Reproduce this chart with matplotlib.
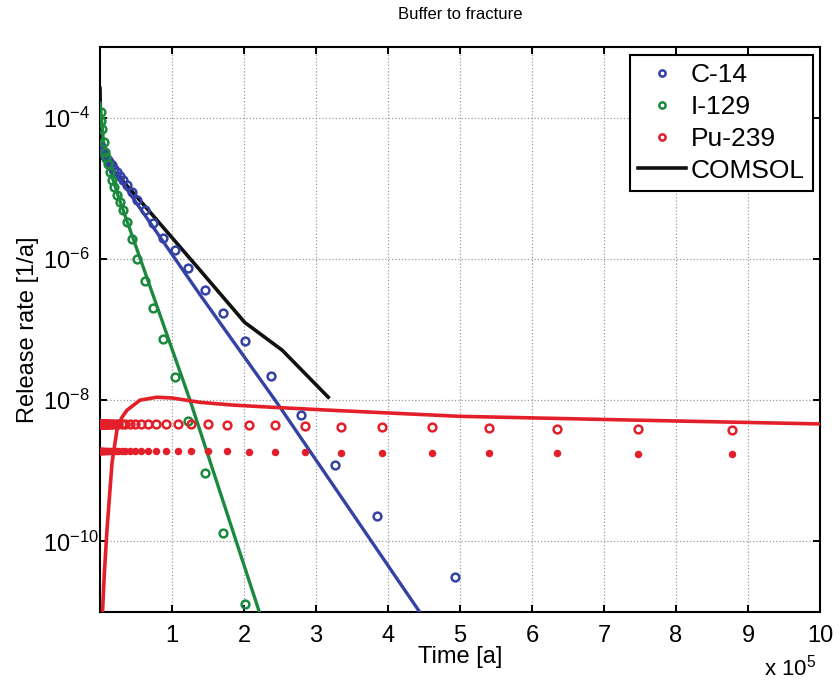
import numpy as np
import matplotlib
matplotlib.use("Agg")
import matplotlib.pyplot as plt
from matplotlib.lines import Line2D
from matplotlib.ticker import FixedLocator, FuncFormatter, LogFormatterSciNotation, NullLocator

plt.rcParams['font.family'] = ['Liberation Sans', 'DejaVu Sans']
plt.rcParams['mathtext.fontset'] = 'custom'
plt.rcParams['mathtext.rm'] = 'Liberation Sans'
plt.rcParams['mathtext.it'] = 'Liberation Sans:italic'
plt.rcParams['axes.unicode_minus'] = False

# --- C-14 / I-129 sample times [a] and release rates [1/a] ---
t_c14 = [1000, 2000, 3000, 5000, 7000, 9000, 11000, 14000, 17000, 20000, 24000, 28000,
         32000, 37500, 44000, 52000, 62000, 74000, 87500, 104000, 122000,
         146000, 171000, 201000, 238000, 279000, 326000, 385000, 493000]
r_c14 = [3.8e-5, 3.5e-5, 3.3e-5, 3.1e-5, 2.9e-5, 2.7e-5, 2.5e-5, 2.3e-5, 2.1e-5, 1.9e-5, 1.7e-5, 1.5e-5,
         1.3e-5, 1.1e-5, 8.8e-6, 6.9e-6, 5.0e-6, 3.2e-6, 2.0e-6, 1.33e-6, 7.4e-7,
         3.6e-7, 1.7e-7, 6.9e-8, 2.2e-8, 6.2e-9, 1.2e-9, 2.3e-10, 3.1e-11]

t_i129 = [1000, 2000, 3000, 5000, 7000, 9000, 11000, 14000, 17000, 20000, 24000, 28000,
          32000, 37500, 44000, 52000, 62000, 74000, 87500, 104000, 122000,
          146000, 171000, 201000]
r_i129 = [1.2e-4, 9.0e-5, 7.0e-5, 4.5e-5, 3.3e-5, 2.8e-5, 2.2e-5, 1.7e-5, 1.3e-5, 1.05e-5, 8.0e-6, 6.3e-6,
          5.0e-6, 3.3e-6, 1.9e-6, 1.0e-6, 4.9e-7, 2.0e-7, 7.3e-8, 2.1e-8, 5.0e-9,
          9.4e-10, 1.3e-10, 1.3e-11]

# --- Pu-239 sample times, two result sets ---
t_pu = [200, 400, 600, 800, 1000, 1500, 2000, 2500, 3000, 3500, 4000, 5000, 6000, 7000,
        8000, 9500, 11000, 13000, 15500, 18500, 21700, 25500, 30000, 35000,
        41000, 48500, 57000, 67000, 78000, 92000, 108000, 127000, 150000, 176000,
        207000, 243000, 285000, 335000, 392000, 461000, 540000, 635000, 747000, 878000]
r_pu_open = [4.6e-9] * 33 + [4.5e-9, 4.45e-9, 4.4e-9, 4.3e-9, 4.2e-9, 4.15e-9,
                             4.1e-9, 4.0e-9, 3.95e-9, 3.9e-9, 3.8e-9]
r_pu_dot = [1.9e-9] * 33 + [1.88e-9, 1.86e-9, 1.85e-9, 1.83e-9, 1.81e-9, 1.8e-9,
                            1.78e-9, 1.77e-9, 1.76e-9, 1.75e-9, 1.75e-9]

# --- continuous curves ---
t_line_c14 = [0, 2000, 139000, 246000, 444000]
r_line_c14 = [4.5e-5, 3.2e-5, 3.1e-7, 9.1e-9, 1.0e-11]

t_line_i129 = [0, 5000, 14000, 25000, 125000, 222000]
r_line_i129 = [1.6e-4, 4.5e-5, 1.8e-5, 7.9e-6, 1.0e-8, 9.5e-12]

t_line_pu = [2500, 3500, 6000, 9700, 16700, 23600, 30000, 37500, 55600, 79000, 101000,
             139000, 185000, 232000, 319000, 499000, 746000, 1000000]
r_line_pu = [3e-12, 1.0e-11, 3.5e-11, 1.45e-10, 1.3e-9, 3.8e-9, 5.6e-9, 7.2e-9, 1.0e-8, 1.1e-8, 1.07e-8,
             9.3e-9, 8.5e-9, 8.0e-9, 7.2e-9, 5.9e-9, 5.2e-9, 4.6e-9]

t_comsol = [0, 1500, 3000, 53000, 100000, 139000, 201000, 253000, 317000]
r_comsol = [2.6e-4, 3.0e-5, 2.7e-5, 7.2e-6, 2.0e-6, 6.9e-7, 1.26e-7, 5.1e-8, 1.1e-8]

blue = '#3442a6'
green = '#1c8a3e'
red = '#e3202a'

fig = plt.figure(figsize=(8.4, 6.85), dpi=100)
ax = fig.add_axes([100 / 840, 1 - 612 / 685, 720 / 840, 565 / 685])

ax.plot(t_comsol, r_comsol, color='#111111', lw=2.6, zorder=3)
ax.plot(t_line_c14, r_line_c14, color=blue, lw=2.4, zorder=3)
ax.plot(t_line_i129, r_line_i129, color=green, lw=2.4, zorder=3)
ax.plot(t_line_pu, r_line_pu, color=red, lw=2.6, zorder=3)

circ = dict(linestyle='none', marker='o', markersize=5.6, markerfacecolor='none',
            markeredgewidth=1.8, zorder=4)
ax.plot(t_c14, r_c14, color=blue, **circ)
ax.plot(t_i129, r_i129, color=green, **circ)
ax.plot(t_pu, r_pu_open, color=red, **circ)
ax.plot(t_pu, r_pu_dot, linestyle='none', marker='o', markersize=5.4,
        color=red, markeredgewidth=0, zorder=4)

ax.set_yscale('log')
ax.set_xlim(0, 1e6)
ax.set_ylim(1e-11, 1e-3)

ax.xaxis.set_major_locator(FixedLocator([i * 1e5 for i in range(1, 11)]))
ax.xaxis.set_major_formatter(FuncFormatter(lambda v, p: f"{v / 1e5:.0f}"))
ax.yaxis.set_major_locator(FixedLocator([1e-10, 1e-8, 1e-6, 1e-4]))
ax.yaxis.set_major_formatter(LogFormatterSciNotation())
ax.yaxis.set_minor_locator(NullLocator())
ax.xaxis.set_minor_locator(NullLocator())

ax.tick_params(direction='in', length=5, width=1.4, top=True, right=True,
               labelsize=17)
ax.tick_params(axis='x', pad=9)
# exponent labels sit flush left, like the original plotting tool does
ax.tick_params(axis='y', pad=41)
for lbl in ax.get_yticklabels():
    lbl.set_horizontalalignment('left')
for s in ax.spines.values():
    s.set_linewidth(1.5)
ax.grid(True, linestyle=':', color='#9a9a9a', linewidth=0.9)

ax.set_xlabel('Time [a]', fontsize=17, labelpad=0)
ax.set_ylabel('Release rate [1/a]', fontsize=17, labelpad=3)
ax.set_title('Buffer to fracture', fontsize=12, pad=20)
fig.text(790 / 840, 1 - 668 / 685, r'x 10$^{5}$', fontsize=16, ha='center', va='center')

handles = [
    Line2D([], [], linestyle='none', marker='o', markersize=4.5, markerfacecolor='none',
           markeredgewidth=1.8, color=blue),
    Line2D([], [], linestyle='none', marker='o', markersize=4.5, markerfacecolor='none',
           markeredgewidth=1.8, color=green),
    Line2D([], [], linestyle='none', marker='o', markersize=4.5, markerfacecolor='none',
           markeredgewidth=1.8, color=red),
    Line2D([], [], color='#111111', lw=2.6),
]
leg = ax.legend(handles, ['C-14', 'I-129', 'Pu-239', 'COMSOL'], loc='upper right',
                bbox_to_anchor=(813 / 840, 1 - 55 / 685), bbox_transform=fig.transFigure,
                borderaxespad=0, fontsize=19, frameon=True, fancybox=False,
                handlelength=1.8, handletextpad=0.2, labelspacing=0.3,
                borderpad=0.3, framealpha=1)
leg.get_frame().set_edgecolor('black')
leg.get_frame().set_linewidth(1.5)

fig.savefig('out.png', dpi=100)
